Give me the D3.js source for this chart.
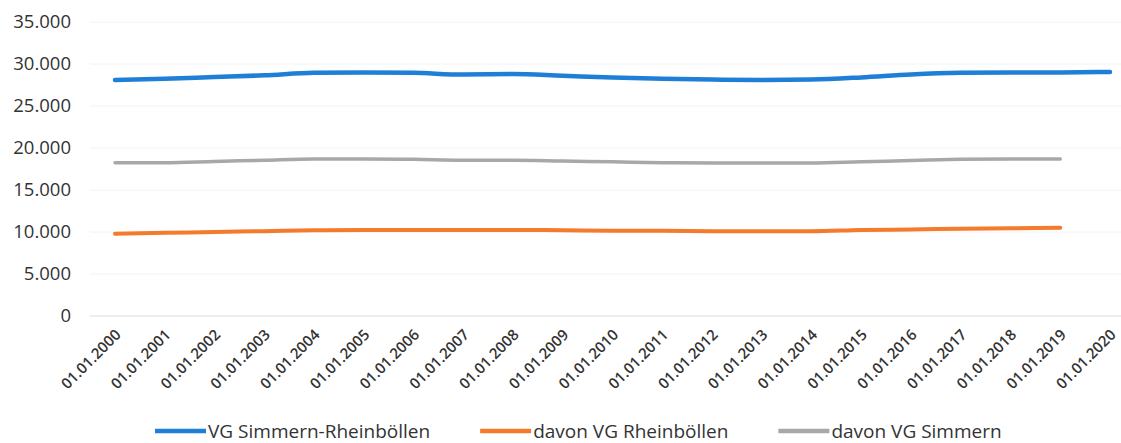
<!DOCTYPE html>
<html>
<head>
<meta charset="utf-8">
<script src="https://cdn.jsdelivr.net/npm/d3@7"></script>
<style>
  body { margin: 0; background: #fff; }
  text { font-family: "Open Sans", sans-serif; fill: #404040; }
</style>
</head>
<body>
<div id="chart"></div>
<script>
var dates = ["01.01.2000", "01.01.2001", "01.01.2002", "01.01.2003", "01.01.2004", "01.01.2005",
  "01.01.2006", "01.01.2007", "01.01.2008", "01.01.2009", "01.01.2010", "01.01.2011",
  "01.01.2012", "01.01.2013", "01.01.2014", "01.01.2015", "01.01.2016", "01.01.2017",
  "01.01.2018", "01.01.2019", "01.01.2020"];

var simmernRheinboellen = [28100, 28250, 28450, 28650, 28950, 29000, 28950, 28750, 28800, 28600,
  28400, 28250, 28150, 28100, 28150, 28400, 28750, 28950, 29000, 29000, 29050];
var rheinboellen = [9800, 9900, 10000, 10100, 10200, 10250, 10250, 10250, 10250, 10200,
  10150, 10150, 10100, 10100, 10100, 10250, 10300, 10400, 10450, 10500];
var simmern = [18250, 18250, 18400, 18550, 18700, 18700, 18650, 18550, 18550, 18450,
  18350, 18250, 18200, 18200, 18200, 18350, 18500, 18650, 18700, 18700];

var seriesNames = ["VG Simmern-Rheinböllen", "davon VG Rheinböllen", "davon VG Simmern"];
var yTicks = [0, 5000, 10000, 15000, 20000, 25000, 30000, 35000];

var chart = {
  width: 1121,
  height: 443,
  top: 22,
  bottom: 316,
  left: 90,
  right: 1121,
}

var svg = d3.select("#chart")
  .append("svg")
  .attr("width", chart.width)
  .attr("height", chart.height);

var x = d3.scalePoint()
  .domain(dates)
  .range([115, 1110]);

var y = d3.scaleLinear()
  .domain([0, 35000])
  .range([chart.bottom, chart.top]);

var fmt = d3.formatLocale({ decimal: ",", thousands: ".", grouping: [3], currency: ["", "€"] }).format(",d");

/* gridlines */
svg.append("g")
  .selectAll("line")
  .data(yTicks)
  .enter()
  .append("line")
  .attr("x1", chart.left)
  .attr("x2", chart.right)
  .attr("y1", (d) => y(d))
  .attr("y2", (d) => y(d))
  .style("stroke", (d) => d === 0 ? "#dcdcdc" : "#f2f2f2")
  .style("stroke-width", 1);

/* y labels */
svg.append("g")
  .selectAll("text")
  .data(yTicks)
  .enter()
  .append("text")
  .attr("x", 71)
  .attr("y", (d) => y(d))
  .attr("dy", "0.35em")
  .attr("text-anchor", "end")
  .style("font-size", "18.5px")
  .style("fill", "#333")
  .text((d) => fmt(d));

/* x labels */
svg.append("g")
  .selectAll("text")
  .data(dates)
  .enter()
  .append("text")
  .attr("transform", (d) => `translate(${x(d) + 3}, 332) rotate(-45)`)
  .attr("text-anchor", "end")
  .attr("dy", "0.35em")
  .style("font-size", "15px")
  .style("font-weight", "600")
  .style("fill", "#333")
  .text((d) => d);

/* lines */
var series = [
  { name: seriesNames[0], values: simmernRheinboellen, color: "#1f7fd6", width: 4.5 },
  { name: seriesNames[1], values: rheinboellen, color: "#f47a2c", width: 4 },
  { name: seriesNames[2], values: simmern, color: "#a8a8a8", width: 3.5 },
];

var line = d3.line()
  .x((d, i) => x(dates[i]))
  .y((d) => y(d))
  .curve(d3.curveMonotoneX);

svg.append("g")
  .selectAll("path")
  .data(series)
  .enter()
  .append("path")
  .attr("d", (d) => line(d.values))
  .style("fill", "none")
  .style("stroke", (d) => d.color)
  .style("stroke-width", (d) => d.width)
  .style("stroke-linecap", "round");

/* legend */
var legend = svg.append("g");
var lx = 155;
series.forEach((s) => {
  legend.append("line")
    .attr("x1", lx).attr("x2", lx + 51)
    .attr("y1", 431).attr("y2", 431)
    .style("stroke", s.color)
    .style("stroke-width", 4.5);
  let t = legend.append("text")
    .attr("x", lx + 53)
    .attr("y", 431)
    .attr("dy", "0.35em")
    .style("font-size", "19px")
    .style("fill", "#333")
    .text(s.name);
  lx += 53 + t.node().getComputedTextLength() + 50;
});
</script>
</body>
</html>
